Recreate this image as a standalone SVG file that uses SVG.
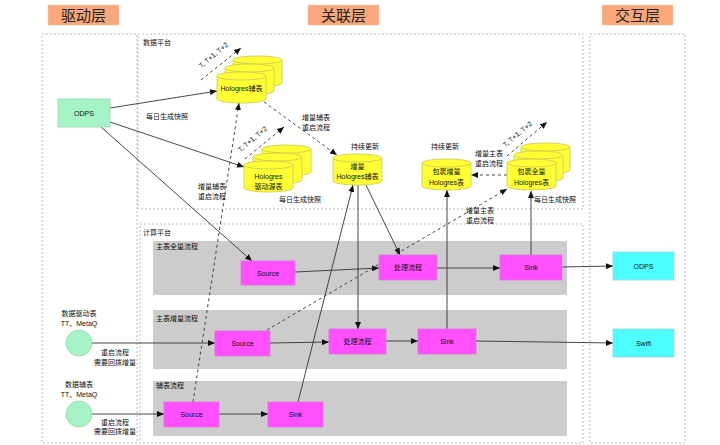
<svg xmlns="http://www.w3.org/2000/svg" xmlns:xlink="http://www.w3.org/1999/xlink" width="720" height="445" viewBox="0 0 720 445">
<style>
text{font-family:"Liberation Sans","Noto Sans CJK SC",sans-serif;font-size:7px;fill:#111;}
.c{text-anchor:middle;}
.hdr{font-size:15px;text-anchor:middle;fill:#222;}
.hbox{fill:#F9A77B;stroke:#f6c5a5;stroke-width:0.5;}
.col{fill:none;stroke:#bbb;stroke-width:1;stroke-dasharray:2,2;}
.lane{fill:#CCCCCC;}
.mag{fill:#FF4FFF;stroke:#e070e0;stroke-width:0.8;}
.cyan{fill:#4DFFFF;stroke:#9fd0d0;stroke-width:0.8;}
.mint{fill:#A6F4C6;stroke:#93d6ae;stroke-width:0.8;}
.cyl{fill:#FFFF33;stroke:#c9c55a;stroke-width:0.8;}
.ln{fill:none;stroke:#333;stroke-width:0.9;marker-end:url(#ah);}
.dl{fill:none;stroke:#333;stroke-width:0.9;stroke-dasharray:3,3;marker-end:url(#ah);}
</style>
<defs>
<marker id="ah" markerUnits="userSpaceOnUse" markerWidth="8" markerHeight="6" refX="7" refY="3" orient="auto">
<path d="M0,0 L7,3 L0,6 Z" fill="#111"/>
</marker>
<g id="cyl">
<path class="cyl" d="M0,4 A24.5,4 0 0 1 49,4 V27 A24.5,4 0 0 1 0,27 Z"/>
<path class="cyl" d="M0,4 A24.5,4 0 0 0 49,4"/>
</g>
</defs>
<rect width="720" height="445" fill="#fff"/>

<g id="headers">
<rect class="hbox" x="48" y="5" width="71" height="20"/>
<text class="hdr" x="83.5" y="20.5">驱动层</text>
<rect class="hbox" x="308" y="5" width="71" height="20"/>
<text class="hdr" x="343.5" y="20.5">关联层</text>
<rect class="hbox" x="602" y="5" width="71" height="20"/>
<text class="hdr" x="637.5" y="20.5">交互层</text>
</g>

<g id="containers">
<rect class="col" x="42" y="34" width="95" height="409"/>
<rect class="col" x="138" y="34" width="445" height="175"/>
<text x="143" y="45">数据平台</text>
<rect class="col" x="140" y="224" width="443" height="219"/>
<text x="143" y="235">计算平台</text>
<rect class="col" x="590" y="34" width="95" height="409"/>
</g>

<g id="lanes">
<rect class="lane" x="153" y="241" width="414" height="54"/>
<text x="156" y="248.5">主表全量流程</text>
<rect class="lane" x="153" y="310" width="414" height="59"/>
<text x="156" y="320.5">主表增量流程</text>
<rect class="lane" x="153" y="381" width="414" height="55"/>
<text x="156" y="387.5">辅表流程</text>
</g>

<g id="connectors">
<path class="ln" d="M110,108 L217,91"/>
<path class="ln" d="M110,122 L244,167"/>
<path class="ln" d="M101,127 L252,261"/>
<path class="dl" d="M201,80 L241,48"/>
<path class="dl" d="M245,159 L284,127"/>
<path class="dl" d="M507,156 L547,122"/>
<path class="dl" d="M264,102 L337,155"/>
<path class="dl" d="M193,402 L239,103"/>
<path class="ln" d="M298,402 L353,185"/>
<path class="ln" d="M358,184 L358,329"/>
<path class="ln" d="M366,185 L400,255"/>
<path class="ln" d="M295,272 L379,268"/>
<path class="ln" d="M437,268 L500,268"/>
<path class="ln" d="M562,267 L613,266"/>
<path class="ln" d="M531,255 L531,191"/>
<path class="ln" d="M447,329 L447,190"/>
<path class="ln" d="M270,343 L329,342"/>
<path class="ln" d="M386,341 L418,341"/>
<path class="ln" d="M476,341 L613,343"/>
<path class="ln" d="M92,343 L215,343"/>
<path class="ln" d="M92,414 L164,414"/>
<path class="ln" d="M219,414 L268,414"/>
<path class="dl" d="M267,330 L507,189"/>
<path class="dl" d="M507,175 L471,175"/>
</g>

<g id="connector-labels">
<text class="c" x="167" y="118.5">每日生成快照</text>
<text class="c" x="300" y="202">每日生成快照</text>
<text class="c" x="555" y="202">每日生成快照</text>
<text class="c" x="316" y="119.5">增量辅表</text>
<text class="c" x="316" y="129.5">重启流程</text>
<text class="c" x="212" y="188.5">增量辅表</text>
<text class="c" x="212" y="199">重启流程</text>
<text class="c" x="489" y="155.5">增量主表</text>
<text class="c" x="489" y="165.5">重启流程</text>
<text class="c" x="480" y="213">增量主表</text>
<text class="c" x="480" y="223">重启流程</text>
<text class="c" transform="translate(215,57) rotate(-40)">T, T+1, T+2</text>
<text class="c" transform="translate(254,141) rotate(-40)">T, T+1, T+2</text>
<text class="c" transform="translate(519,136) rotate(-40)">T, T+1, T+2</text>
<text class="c" x="365" y="148.5">持续更新</text>
<text class="c" x="445" y="148.5">持续更新</text>
<text class="c" x="115" y="354.5">重启流程</text>
<text class="c" x="115" y="364.5">需要回拨增量</text>
<text class="c" x="115" y="424.5">重启流程</text>
<text class="c" x="115" y="434">需要回拨增量</text>
</g>

<g id="odps-src">
<rect class="mint" x="58" y="99" width="52" height="28"/>
<text class="c" x="84" y="115.5">ODPS</text>
</g>

<g id="holo-aux">
<use xlink:href="#cyl" x="233" y="56"/>
<use xlink:href="#cyl" x="225" y="64"/>
<use xlink:href="#cyl" x="217" y="72"/>
<text class="c" x="241.5" y="90.5">Hologres辅表</text>
</g>

<g id="holo-driver">
<use xlink:href="#cyl" x="262" y="145"/>
<use xlink:href="#cyl" x="253" y="153"/>
<use xlink:href="#cyl" x="244" y="161"/>
<text class="c" x="268.5" y="179">Hologres</text>
<text class="c" x="268.5" y="188.5">驱动源表</text>
</g>

<g id="holo-inc-aux">
<use xlink:href="#cyl" x="333" y="154"/>
<text class="c" x="357.5" y="168.5">增量</text>
<text class="c" x="357.5" y="178.5">Hologres辅表</text>
</g>

<g id="holo-pkg-inc">
<use xlink:href="#cyl" x="422" y="159"/>
<text class="c" x="446.5" y="173.5">包裹增量</text>
<text class="c" x="446.5" y="184.5">Hologres表</text>
</g>

<g id="holo-pkg-full">
<use xlink:href="#cyl" x="521" y="143"/>
<use xlink:href="#cyl" x="514" y="151"/>
<use xlink:href="#cyl" x="507" y="159"/>
<text class="c" x="531.5" y="174">包裹全量</text>
<text class="c" x="531.5" y="184.5">Hologres表</text>
</g>

<g id="full-source">
<rect class="mag" x="241" y="261" width="54" height="24"/>
<text class="c" x="268" y="275.5">Source</text>
</g>
<g id="full-process">
<rect class="mag" x="379" y="255" width="58" height="25"/>
<text class="c" x="408" y="270">处理流程</text>
</g>
<g id="full-sink">
<rect class="mag" x="500" y="255" width="62" height="25"/>
<text class="c" x="531" y="270">Sink</text>
</g>
<g id="inc-source">
<rect class="mag" x="215" y="331" width="55" height="25"/>
<text class="c" x="242.5" y="346">Source</text>
</g>
<g id="inc-process">
<rect class="mag" x="329" y="329" width="57" height="25"/>
<text class="c" x="357.5" y="344">处理流程</text>
</g>
<g id="inc-sink">
<rect class="mag" x="418" y="329" width="58" height="25"/>
<text class="c" x="447" y="344">Sink</text>
</g>
<g id="aux-source">
<rect class="mag" x="164" y="402" width="55" height="25"/>
<text class="c" x="191.5" y="417">Source</text>
</g>
<g id="aux-sink">
<rect class="mag" x="268" y="402" width="55" height="25"/>
<text class="c" x="295.5" y="417">Sink</text>
</g>

<g id="odps-out">
<rect class="cyan" x="613" y="252" width="61" height="28"/>
<text class="c" x="643.5" y="268.5">ODPS</text>
</g>
<g id="swift-out">
<rect class="cyan" x="613" y="329" width="61" height="28"/>
<text class="c" x="643.5" y="345.5">Swift</text>
</g>

<g id="driver-stream">
<text class="c" x="79" y="315.5">数据驱动表</text>
<text class="c" x="79" y="325.5">TT、MetaQ</text>
<circle class="mint" cx="79" cy="343" r="13"/>
</g>
<g id="aux-stream">
<text class="c" x="79" y="386.5">数据辅表</text>
<text class="c" x="79" y="396.5">TT、MetaQ</text>
<circle class="mint" cx="79" cy="414" r="13"/>
</g>
</svg>
